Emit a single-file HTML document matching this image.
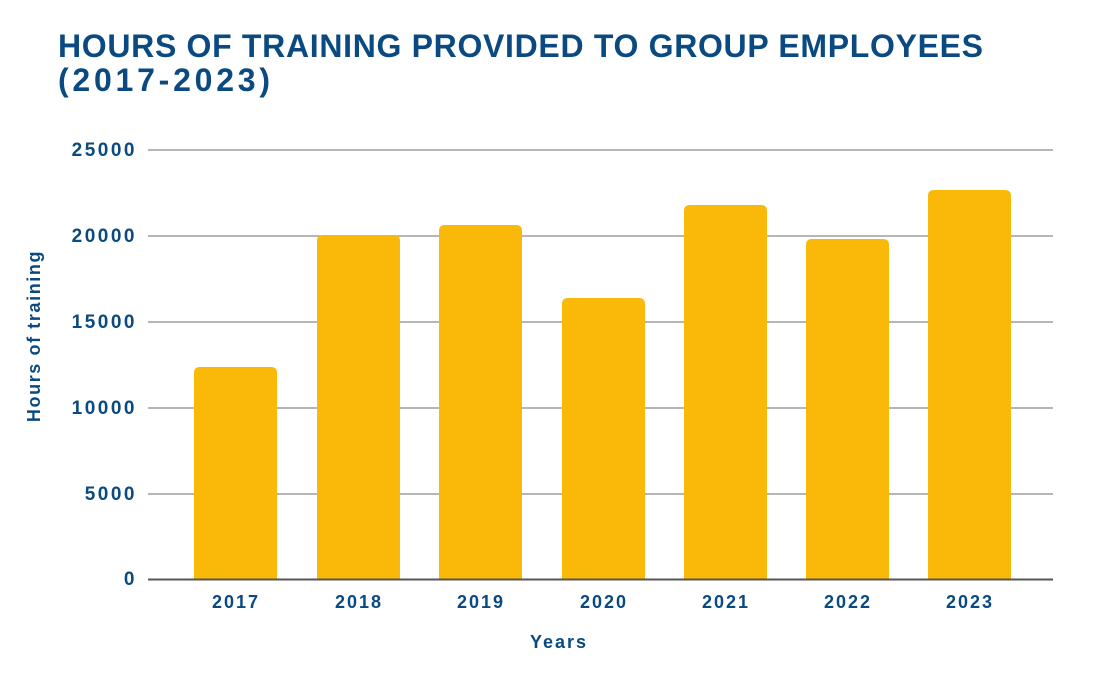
<!DOCTYPE html>
<html><head><meta charset="utf-8"><style>
html,body{margin:0;padding:0;background:#fff;}
svg{display:block;font-family:"Liberation Sans","DejaVu Sans",sans-serif;}
</style></head><body>
<svg width="1110" height="675" viewBox="0 0 1110 675" xmlns="http://www.w3.org/2000/svg">
<rect width="1110" height="675" fill="#fff"/>
<g fill="#0a4a80" font-weight="bold">
<text x="58" y="57" font-size="32" textLength="925" lengthAdjust="spacing">HOURS OF TRAINING PROVIDED TO GROUP EMPLOYEES</text>
<text x="58" y="91" font-size="32" textLength="212" lengthAdjust="spacing">(2017-2023)</text>
</g>
<g stroke="#8a8a8a" stroke-width="1.3">
<line x1="148" y1="150" x2="1053" y2="150"/>
<line x1="148" y1="236" x2="1053" y2="236"/>
<line x1="148" y1="322" x2="1053" y2="322"/>
<line x1="148" y1="408" x2="1053" y2="408"/>
<line x1="148" y1="494" x2="1053" y2="494"/>
</g>
<g fill="#fab908">
<path d="M194 579V373q0-6 6-6h71q6 0 6 6V579Z"/>
<path d="M317 579V241q0-6 6-6h71q6 0 6 6V579Z"/>
<path d="M439 579V231q0-6 6-6h71q6 0 6 6V579Z"/>
<path d="M562 579V304q0-6 6-6h71q6 0 6 6V579Z"/>
<path d="M684 579V211q0-6 6-6h71q6 0 6 6V579Z"/>
<path d="M806 579V245q0-6 6-6h71q6 0 6 6V579Z"/>
<path d="M928 579V196q0-6 6-6h71q6 0 6 6V579Z"/>
</g>
<line x1="148" y1="579.5" x2="1053" y2="579.5" stroke="#555" stroke-width="2"/>
<g fill="#0a4a80" font-weight="bold" font-size="19" text-anchor="end" letter-spacing="2.5">
<text x="137" y="156">25000</text>
<text x="137" y="242">20000</text>
<text x="137" y="328">15000</text>
<text x="137" y="414">10000</text>
<text x="137" y="500">5000</text>
<text x="137" y="585">0</text>
</g>
<g fill="#0a4a80" font-weight="bold" font-size="18" text-anchor="middle" letter-spacing="2">
<text x="236" y="608">2017</text>
<text x="359" y="608">2018</text>
<text x="481" y="608">2019</text>
<text x="604" y="608">2020</text>
<text x="726" y="608">2021</text>
<text x="848" y="608">2022</text>
<text x="970" y="608">2023</text>
<text x="559" y="648">Years</text>
<text transform="translate(40 336) rotate(-90)" letter-spacing="1.6">Hours of training</text>
</g>
</svg>
</body></html>
